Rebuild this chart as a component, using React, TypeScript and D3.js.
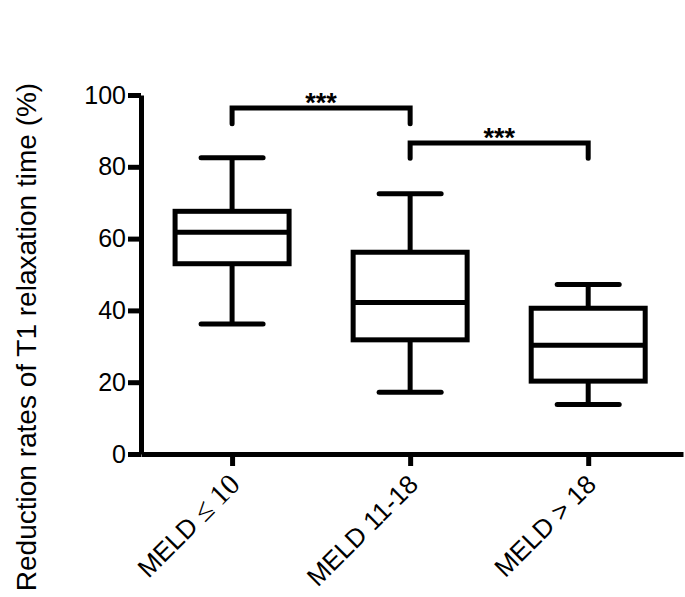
import React, { Component } from "react";
import * as D3 from "d3";

const CATEGORIES = ["MELD ≤ 10", "MELD 11-18", "MELD > 18"];
const WHISKER_LOW = [36.2, 17.2, 13.8];
const Q1 = [53, 31.8, 20.3];
const MEDIAN = [61.8, 42.2, 30.3];
const Q3 = [67.6, 56.2, 40.6];
const WHISKER_HIGH = [82.5, 72.5, 47.2];
const Y_TICKS = [0, 20, 40, 60, 80, 100];

// significance brackets: from group, to group, bracket height, legs down to
const BRACKET_FROM = [0, 1];
const BRACKET_TO = [1, 2];
const BRACKET_TOP = [96.4, 86.6];
const BRACKET_LEG = [92, 82.4];
const BRACKET_LABEL = ["***", "***"];

const W = 685;
const H = 597;
const FONT = "Liberation Sans, Arial, sans-serif";

class App extends Component {
	svgRef = React.createRef<SVGSVGElement>();

	componentDidMount() {
		const svg = D3.select(this.svgRef.current);
		svg.selectAll("*").remove();

		const x_scale = D3.scalePoint()
			.domain(CATEGORIES)
			.range([141, 683])
			.padding(0.522)
			.align(0.49);

		const y_scale = D3.scaleLinear().domain([0, 100]).range([454, 95]);

		const boxHalf = 57;
		const capHalf = 31;
		const sw = 5;

		// y axis
		const y_axis = D3.axisLeft(y_scale).tickValues(Y_TICKS).tickSize(13).tickSizeOuter(0).tickPadding(2);
		const gy = svg.append("g").attr("transform", "translate(141,0)").call(y_axis);
		gy.select(".domain").attr("stroke-width", sw).attr("stroke", "#000");
		gy.selectAll(".tick line").attr("stroke-width", sw).attr("stroke", "#000");
		gy.selectAll(".tick text")
			.attr("font-family", FONT)
			.attr("font-size", 25)
			.attr("fill", "#000");

		// x axis
		const x_axis = D3.axisBottom(x_scale).tickSize(12).tickSizeOuter(0);
		const gx = svg.append("g").attr("transform", `translate(0,${y_scale(0)})`).call(x_axis);
		gx.select(".domain").attr("stroke-width", sw).attr("stroke", "#000");
		gx.selectAll(".tick line").attr("stroke-width", sw).attr("stroke", "#000");
		gx.selectAll(".tick text")
			.attr("font-family", FONT)
			.attr("font-size", 26)
			.attr("fill", "#000")
			.attr("text-anchor", "end")
			.attr("dy", 0)
			.attr("y", 0)
			.attr("transform", "translate(9,32) rotate(-45)")
			.each(function (d: any) {
				const t = D3.select(this);
				const idx = d.indexOf("≤");
				if (idx >= 0) {
					t.text(null);
					t.append("tspan").text(d.slice(0, idx));
					t.append("tspan")
						.attr("font-family", "Liberation Serif, Times New Roman, serif")
						.attr("font-size", 29)
						.text(d.slice(idx));
				}
			});

		// boxes
		const plot = svg.append("g").attr("fill", "none").attr("stroke", "#000").attr("stroke-width", sw);
		CATEGORIES.forEach((c, i) => {
			const cx = x_scale(c) as number;
			const g = plot.append("g");
			g.append("line")
				.attr("x1", cx)
				.attr("x2", cx)
				.attr("y1", y_scale(WHISKER_HIGH[i]))
				.attr("y2", y_scale(Q3[i]));
			g.append("line")
				.attr("x1", cx)
				.attr("x2", cx)
				.attr("y1", y_scale(Q1[i]))
				.attr("y2", y_scale(WHISKER_LOW[i]));
			g.append("line")
				.attr("x1", cx - capHalf)
				.attr("x2", cx + capHalf)
				.attr("y1", y_scale(WHISKER_HIGH[i]))
				.attr("y2", y_scale(WHISKER_HIGH[i]))
				.attr("stroke-linecap", "round");
			g.append("line")
				.attr("x1", cx - capHalf)
				.attr("x2", cx + capHalf)
				.attr("y1", y_scale(WHISKER_LOW[i]))
				.attr("y2", y_scale(WHISKER_LOW[i]))
				.attr("stroke-linecap", "round");
			g.append("rect")
				.attr("x", cx - boxHalf)
				.attr("width", boxHalf * 2)
				.attr("y", y_scale(Q3[i]))
				.attr("height", y_scale(Q1[i]) - y_scale(Q3[i]));
			g.append("line")
				.attr("x1", cx - boxHalf)
				.attr("x2", cx + boxHalf)
				.attr("y1", y_scale(MEDIAN[i]))
				.attr("y2", y_scale(MEDIAN[i]));
		});

		// brackets
		BRACKET_FROM.forEach((from, i) => {
			const x1 = x_scale(CATEGORIES[from]) as number;
			const x2 = x_scale(CATEGORIES[BRACKET_TO[i]]) as number;
			const top = y_scale(BRACKET_TOP[i]);
			const leg = y_scale(BRACKET_LEG[i]);
			svg.append("path")
				.attr("d", `M${x1},${leg}V${top}H${x2}V${leg}`)
				.attr("fill", "none")
				.attr("stroke", "#000")
				.attr("stroke-width", sw)
				.attr("stroke-linecap", "round");
			svg.append("text")
				.attr("x", (x1 + x2) / 2)
				.attr("y", top + 4)
				.attr("text-anchor", "middle")
				.attr("font-family", FONT)
				.attr("font-weight", "bold")
				.attr("font-size", 27)
				.text(BRACKET_LABEL[i]);
		});

		// y title
		svg.append("text")
			.attr("transform", "translate(36,337) rotate(-90)")
			.attr("text-anchor", "middle")
			.attr("font-family", FONT)
			.attr("font-size", 28)
			.attr("fill", "#000")
			.text("Reduction rates of T1 relaxation time (%)");
	}

	render() {
		return (
			<svg
				ref={this.svgRef}
				width={W}
				height={H}
				style={{ position: "absolute", left: 0, top: 0, background: "#fff" }}></svg>
		);
	}
}

export default App;
